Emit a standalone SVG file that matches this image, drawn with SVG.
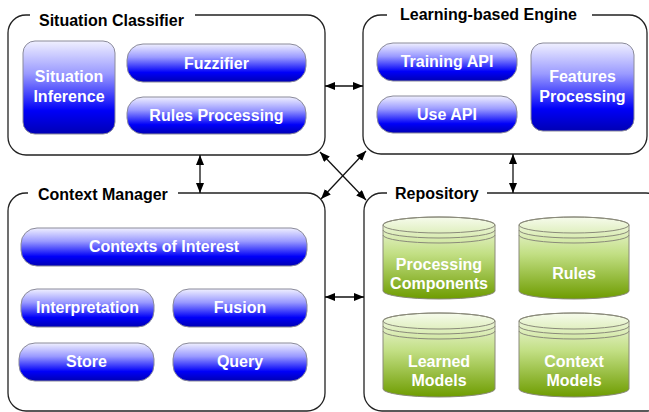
<svg xmlns="http://www.w3.org/2000/svg" width="649" height="412" viewBox="0 0 649 412">
<style>
.box{fill:#fff;stroke:#222;stroke-width:1.3}
.gap{fill:#fff;stroke:none}
.title{font-family:"Liberation Sans",Arial,sans-serif;font-weight:bold;font-size:16px;fill:#000}
.node{fill:url(#blue);stroke:#8a8a9a;stroke-width:1}
.cyl{fill:url(#green);stroke:#8a8a7a;stroke-width:1}
.arc{fill:none;stroke:#8a8a7a;stroke-width:1}
.lbl{font-family:"Liberation Sans",Arial,sans-serif;font-weight:bold;font-size:16px;fill:#fff;text-anchor:middle}
.conn{stroke:#111;stroke-width:1.3;fill:none;marker-start:url(#ah);marker-end:url(#ah)}
</style>
<defs>
<linearGradient id="blue" x1="0" y1="0" x2="0" y2="1">
<stop offset="0" stop-color="#f0f0ff"/>
<stop offset="0.35" stop-color="#9a9aff"/>
<stop offset="0.75" stop-color="#0000f8"/>
<stop offset="1" stop-color="#0000b4"/>
</linearGradient>
<linearGradient id="green" x1="0" y1="0" x2="0" y2="1">
<stop offset="0" stop-color="#f6fbec"/>
<stop offset="0.45" stop-color="#c2df84"/>
<stop offset="1" stop-color="#6e9c00"/>
</linearGradient>
<marker id="ah" viewBox="0 0 10 8" refX="10" refY="4" markerWidth="10" markerHeight="8" markerUnits="userSpaceOnUse" orient="auto-start-reverse">
<path d="M0,0 L10,4 L0,8 z" fill="#000"/>
</marker>
</defs>

<g id="situation-classifier">
<rect class="box" x="8" y="15" width="317" height="140" rx="18"/>
<rect class="gap" x="30" y="8" width="165" height="12"/>
<text class="title" x="39" y="26">Situation Classifier</text>
<g id="situation-inference">
<rect class="node" x="23" y="41" width="92" height="93" rx="12"/>
<text class="lbl" x="69" y="82">Situation</text>
<text class="lbl" x="69" y="102">Inference</text>
</g>
<g id="fuzzifier">
<rect class="node" x="127" y="44" width="179" height="38" rx="16"/>
<text class="lbl" x="216.5" y="69">Fuzzifier</text>
</g>
<g id="rules-processing">
<rect class="node" x="127" y="97" width="179" height="37" rx="16"/>
<text class="lbl" x="216.5" y="121">Rules Processing</text>
</g>
</g>

<g id="learning-engine">
<rect class="box" x="363" y="15" width="284" height="139" rx="18"/>
<rect class="gap" x="387" y="8" width="205" height="12"/>
<text class="title" x="400" y="20">Learning-based Engine</text>
<g id="training-api">
<rect class="node" x="377" y="43" width="140" height="38" rx="16"/>
<text class="lbl" x="447" y="67">Training API</text>
</g>
<g id="use-api">
<rect class="node" x="377" y="96" width="140" height="37" rx="16"/>
<text class="lbl" x="447" y="120">Use API</text>
</g>
<g id="features-processing">
<rect class="node" x="531" y="43" width="103" height="88" rx="12"/>
<text class="lbl" x="582.5" y="82">Features</text>
<text class="lbl" x="582.5" y="102">Processing</text>
</g>
</g>

<g id="context-manager">
<rect class="box" x="8" y="193" width="317" height="218" rx="18"/>
<rect class="gap" x="28" y="186" width="150" height="12"/>
<text class="title" x="38" y="200">Context Manager</text>
<g id="contexts-of-interest">
<rect class="node" x="21" y="228" width="286" height="38" rx="16"/>
<text class="lbl" x="164" y="252">Contexts of Interest</text>
</g>
<g id="interpretation">
<rect class="node" x="21" y="289" width="133" height="38" rx="16"/>
<text class="lbl" x="87.5" y="313">Interpretation</text>
</g>
<g id="fusion">
<rect class="node" x="173" y="289" width="134" height="38" rx="16"/>
<text class="lbl" x="240" y="313">Fusion</text>
</g>
<g id="store">
<rect class="node" x="19" y="343" width="135" height="38" rx="16"/>
<text class="lbl" x="86.5" y="367">Store</text>
</g>
<g id="query">
<rect class="node" x="173" y="343" width="134" height="38" rx="16"/>
<text class="lbl" x="240" y="367">Query</text>
</g>
</g>

<g id="repository">
<rect class="box" x="364" y="193" width="300" height="218" rx="18"/>
<rect class="gap" x="387" y="186" width="100" height="12"/>
<text class="title" x="395" y="199">Repository</text>
<g id="processing-components">
<path class="cyl" d="M383,225 L383,291 A56,8 0 0 0 495,291 L495,225 A56,8 0 0 0 383,225 Z"/>
<path class="arc" d="M383,225 A56,8 0 0 1 495,225"/>
<path class="arc" d="M383,225 A56,8 0 0 0 495,225 M383,230 A56,8 0 0 0 495,230 M383,235 A56,8 0 0 0 495,235"/>
<text class="lbl" x="439" y="270">Processing</text>
<text class="lbl" x="439" y="289">Components</text>
</g>
<g id="rules">
<path class="cyl" d="M519,225 L519,291 A55,8 0 0 0 629,291 L629,225 A55,8 0 0 0 519,225 Z"/>
<path class="arc" d="M519,225 A55,8 0 0 1 629,225"/>
<path class="arc" d="M519,225 A55,8 0 0 0 629,225 M519,230 A55,8 0 0 0 629,230 M519,235 A55,8 0 0 0 629,235"/>
<text class="lbl" x="574" y="279">Rules</text>
</g>
<g id="learned-models">
<path class="cyl" d="M383,321 L383,389 A56,8 0 0 0 495,389 L495,321 A56,8 0 0 0 383,321 Z"/>
<path class="arc" d="M383,321 A56,8 0 0 1 495,321"/>
<path class="arc" d="M383,321 A56,8 0 0 0 495,321 M383,326 A56,8 0 0 0 495,326 M383,331 A56,8 0 0 0 495,331"/>
<text class="lbl" x="439" y="367">Learned</text>
<text class="lbl" x="439" y="386">Models</text>
</g>
<g id="context-models">
<path class="cyl" d="M519,321 L519,389 A55,8 0 0 0 629,389 L629,321 A55,8 0 0 0 519,321 Z"/>
<path class="arc" d="M519,321 A55,8 0 0 1 629,321"/>
<path class="arc" d="M519,321 A55,8 0 0 0 629,321 M519,326 A55,8 0 0 0 629,326 M519,331 A55,8 0 0 0 629,331"/>
<text class="lbl" x="574" y="367">Context</text>
<text class="lbl" x="574" y="386">Models</text>
</g>
</g>

<g id="connectors">
<line class="conn" x1="325" y1="86" x2="363" y2="86"/>
<line class="conn" x1="325" y1="297" x2="364" y2="297"/>
<line class="conn" x1="200" y1="155" x2="200" y2="193"/>
<line class="conn" x1="513" y1="154" x2="513" y2="193"/>
<line class="conn" x1="320" y1="152" x2="366" y2="200"/>
<line class="conn" x1="366" y1="151" x2="321" y2="199"/>
</g>
</svg>
